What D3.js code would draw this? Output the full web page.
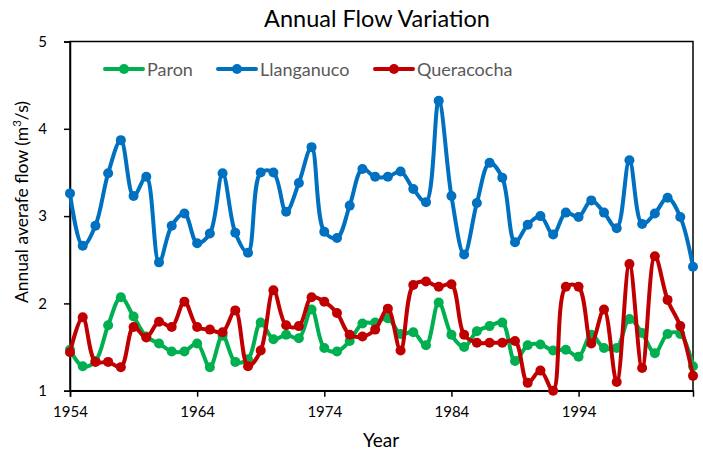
<!DOCTYPE html>
<html>
<head>
<meta charset="utf-8">
<script src="https://cdn.jsdelivr.net/npm/d3@7"></script>
<style>
  html, body { margin: 0; padding: 0; background: #fff; }
  svg { display: block; }
  text { font-family: Lato, "Open Sans", sans-serif; }
</style>
</head>
<body>
<svg id="chart" width="703" height="453"></svg>
<script>
const years = d3.range(1954, 2004);
const xTickYears = [1954, 1964, 1974, 1984, 1994];
const yTicks = [1, 2, 3, 4, 5];

const paron = [1.47, 1.28, 1.34, 1.75, 2.07, 1.85, 1.62, 1.54, 1.45, 1.45,
               1.54, 1.27, 1.63, 1.33, 1.36, 1.78, 1.59, 1.64, 1.60, 1.93,
               1.49, 1.45, 1.57, 1.77, 1.78, 1.83, 1.65, 1.67, 1.52, 2.01,
               1.64, 1.50, 1.68, 1.74, 1.78, 1.34, 1.52, 1.53, 1.46, 1.47,
               1.39, 1.64, 1.49, 1.49, 1.82, 1.66, 1.43, 1.65, 1.65, 1.28];

const llanganuco = [3.26, 2.66, 2.89, 3.49, 3.87, 3.23, 3.45, 2.47, 2.89, 3.03,
                    2.69, 2.80, 3.49, 2.81, 2.58, 3.50, 3.50, 3.05, 3.38, 3.79,
                    2.82, 2.75, 3.12, 3.54, 3.45, 3.45, 3.51, 3.31, 3.16, 4.32,
                    3.23, 2.56, 3.15, 3.61, 3.44, 2.70, 2.90, 3.00, 2.79, 3.04,
                    2.99, 3.18, 3.04, 2.86, 3.64, 2.91, 3.03, 3.21, 2.99, 2.42];

const queracocha = [1.44, 1.84, 1.33, 1.33, 1.27, 1.73, 1.61, 1.79, 1.73, 2.02,
                    1.73, 1.70, 1.67, 1.92, 1.28, 1.46, 2.15, 1.75, 1.74, 2.07,
                    2.02, 1.89, 1.64, 1.62, 1.70, 1.94, 1.46, 2.21, 2.25, 2.19,
                    2.22, 1.64, 1.55, 1.55, 1.55, 1.57, 1.09, 1.23, 1.00, 2.19,
                    2.19, 1.54, 1.93, 1.10, 2.45, 1.26, 2.54, 2.04, 1.74, 1.17];

const seriesNames = ["Paron", "Llanganuco", "Queracocha"];
const seriesValues = [paron, llanganuco, queracocha];
const seriesColors = ["#00B050", "#0070C0", "#C00000"];

const svg = d3.select("#chart");
const mLeft = 70, mRight = 693, mTop = 41.5, mBottom = 390.7;

const x = d3.scaleLinear().domain([1954, 2003]).range([mLeft, mRight]);
const y = d3.scaleLinear().domain([1, 5]).range([mBottom, mTop]);

// Frame
svg.append("rect")
  .attr("x", mLeft).attr("y", mTop)
  .attr("width", mRight - mLeft).attr("height", mBottom - mTop)
  .attr("fill", "none").attr("stroke", "#000").attr("stroke-width", 1.5);

// Y axis
const yAxis = d3.axisLeft(y).tickValues(yTicks).tickSize(6).tickPadding(26).tickFormat(d3.format("d"));
const gy = svg.append("g").attr("transform", `translate(${mLeft},0)`).call(yAxis);
gy.select(".domain").attr("stroke", "#000").attr("stroke-width", 1.5);
gy.selectAll(".tick line").attr("stroke", "#000").attr("stroke-width", 1.5);
gy.selectAll(".tick text").attr("font-size", 15).attr("fill", "#000").attr("text-anchor", "middle").attr("dx", "0.3em");

// X axis
const xAxis = d3.axisBottom(x).tickValues(xTickYears).tickSize(6).tickPadding(10).tickFormat(d3.format("d"));
const gx = svg.append("g").attr("transform", `translate(0,${mBottom})`).call(xAxis);
gx.select(".domain").attr("stroke", "#000").attr("stroke-width", 1.5);
gx.selectAll(".tick line").attr("stroke", "#000").attr("stroke-width", 1.5);
gx.selectAll(".tick text").attr("font-size", 15).attr("fill", "#000");

// Lines
const line = d3.line()
  .x((d, i) => x(years[i]))
  .y(d => y(d))
  .curve(d3.curveCatmullRom.alpha(0.5));

seriesValues.forEach((vals, k) => {
  const g = svg.append("g");
  g.append("path")
    .datum(vals)
    .attr("d", line)
    .attr("fill", "none")
    .attr("stroke", seriesColors[k])
    .attr("stroke-width", 4)
    .attr("stroke-linejoin", "round")
    .attr("stroke-linecap", "round");
  g.selectAll("circle")
    .data(vals)
    .join("circle")
    .attr("cx", (d, i) => x(years[i]))
    .attr("cy", d => y(d))
    .attr("r", 5)
    .attr("fill", seriesColors[k]);
});

// Title
svg.append("text")
  .attr("x", 377).attr("y", 27)
  .attr("text-anchor", "middle")
  .attr("font-size", 23.5)
  .attr("fill", "#000")
  .text("Annual Flow Variation");

// Axis titles
svg.append("text")
  .attr("x", 381).attr("y", 447)
  .attr("text-anchor", "middle")
  .attr("font-size", 19)
  .attr("fill", "#000")
  .text("Year");

const yt = svg.append("text")
  .attr("transform", "translate(28,202) rotate(-90)")
  .attr("text-anchor", "middle")
  .attr("font-size", 17.5)
  .attr("fill", "#000");
yt.append("tspan").text("Annual averafe flow (m");
yt.append("tspan").attr("font-size", 11.5).attr("dy", -7).text("3");
yt.append("tspan").attr("dy", 7).text("/s)");

// Legend
const legendX = [105, 218, 375];
seriesNames.forEach((name, k) => {
  const g = svg.append("g").attr("transform", `translate(${legendX[k]},69)`);
  g.append("line").attr("x1", 0).attr("x2", 38).attr("y1", 0).attr("y2", 0)
    .attr("stroke", seriesColors[k]).attr("stroke-width", 4).attr("stroke-linecap", "round");
  g.append("circle").attr("cx", 19).attr("cy", 0).attr("r", 5).attr("fill", seriesColors[k]);
  g.append("text").attr("x", 42).attr("y", 6.5)
    .attr("font-size", 18).attr("fill", "#595959").text(name);
});
</script>
</body>
</html>
